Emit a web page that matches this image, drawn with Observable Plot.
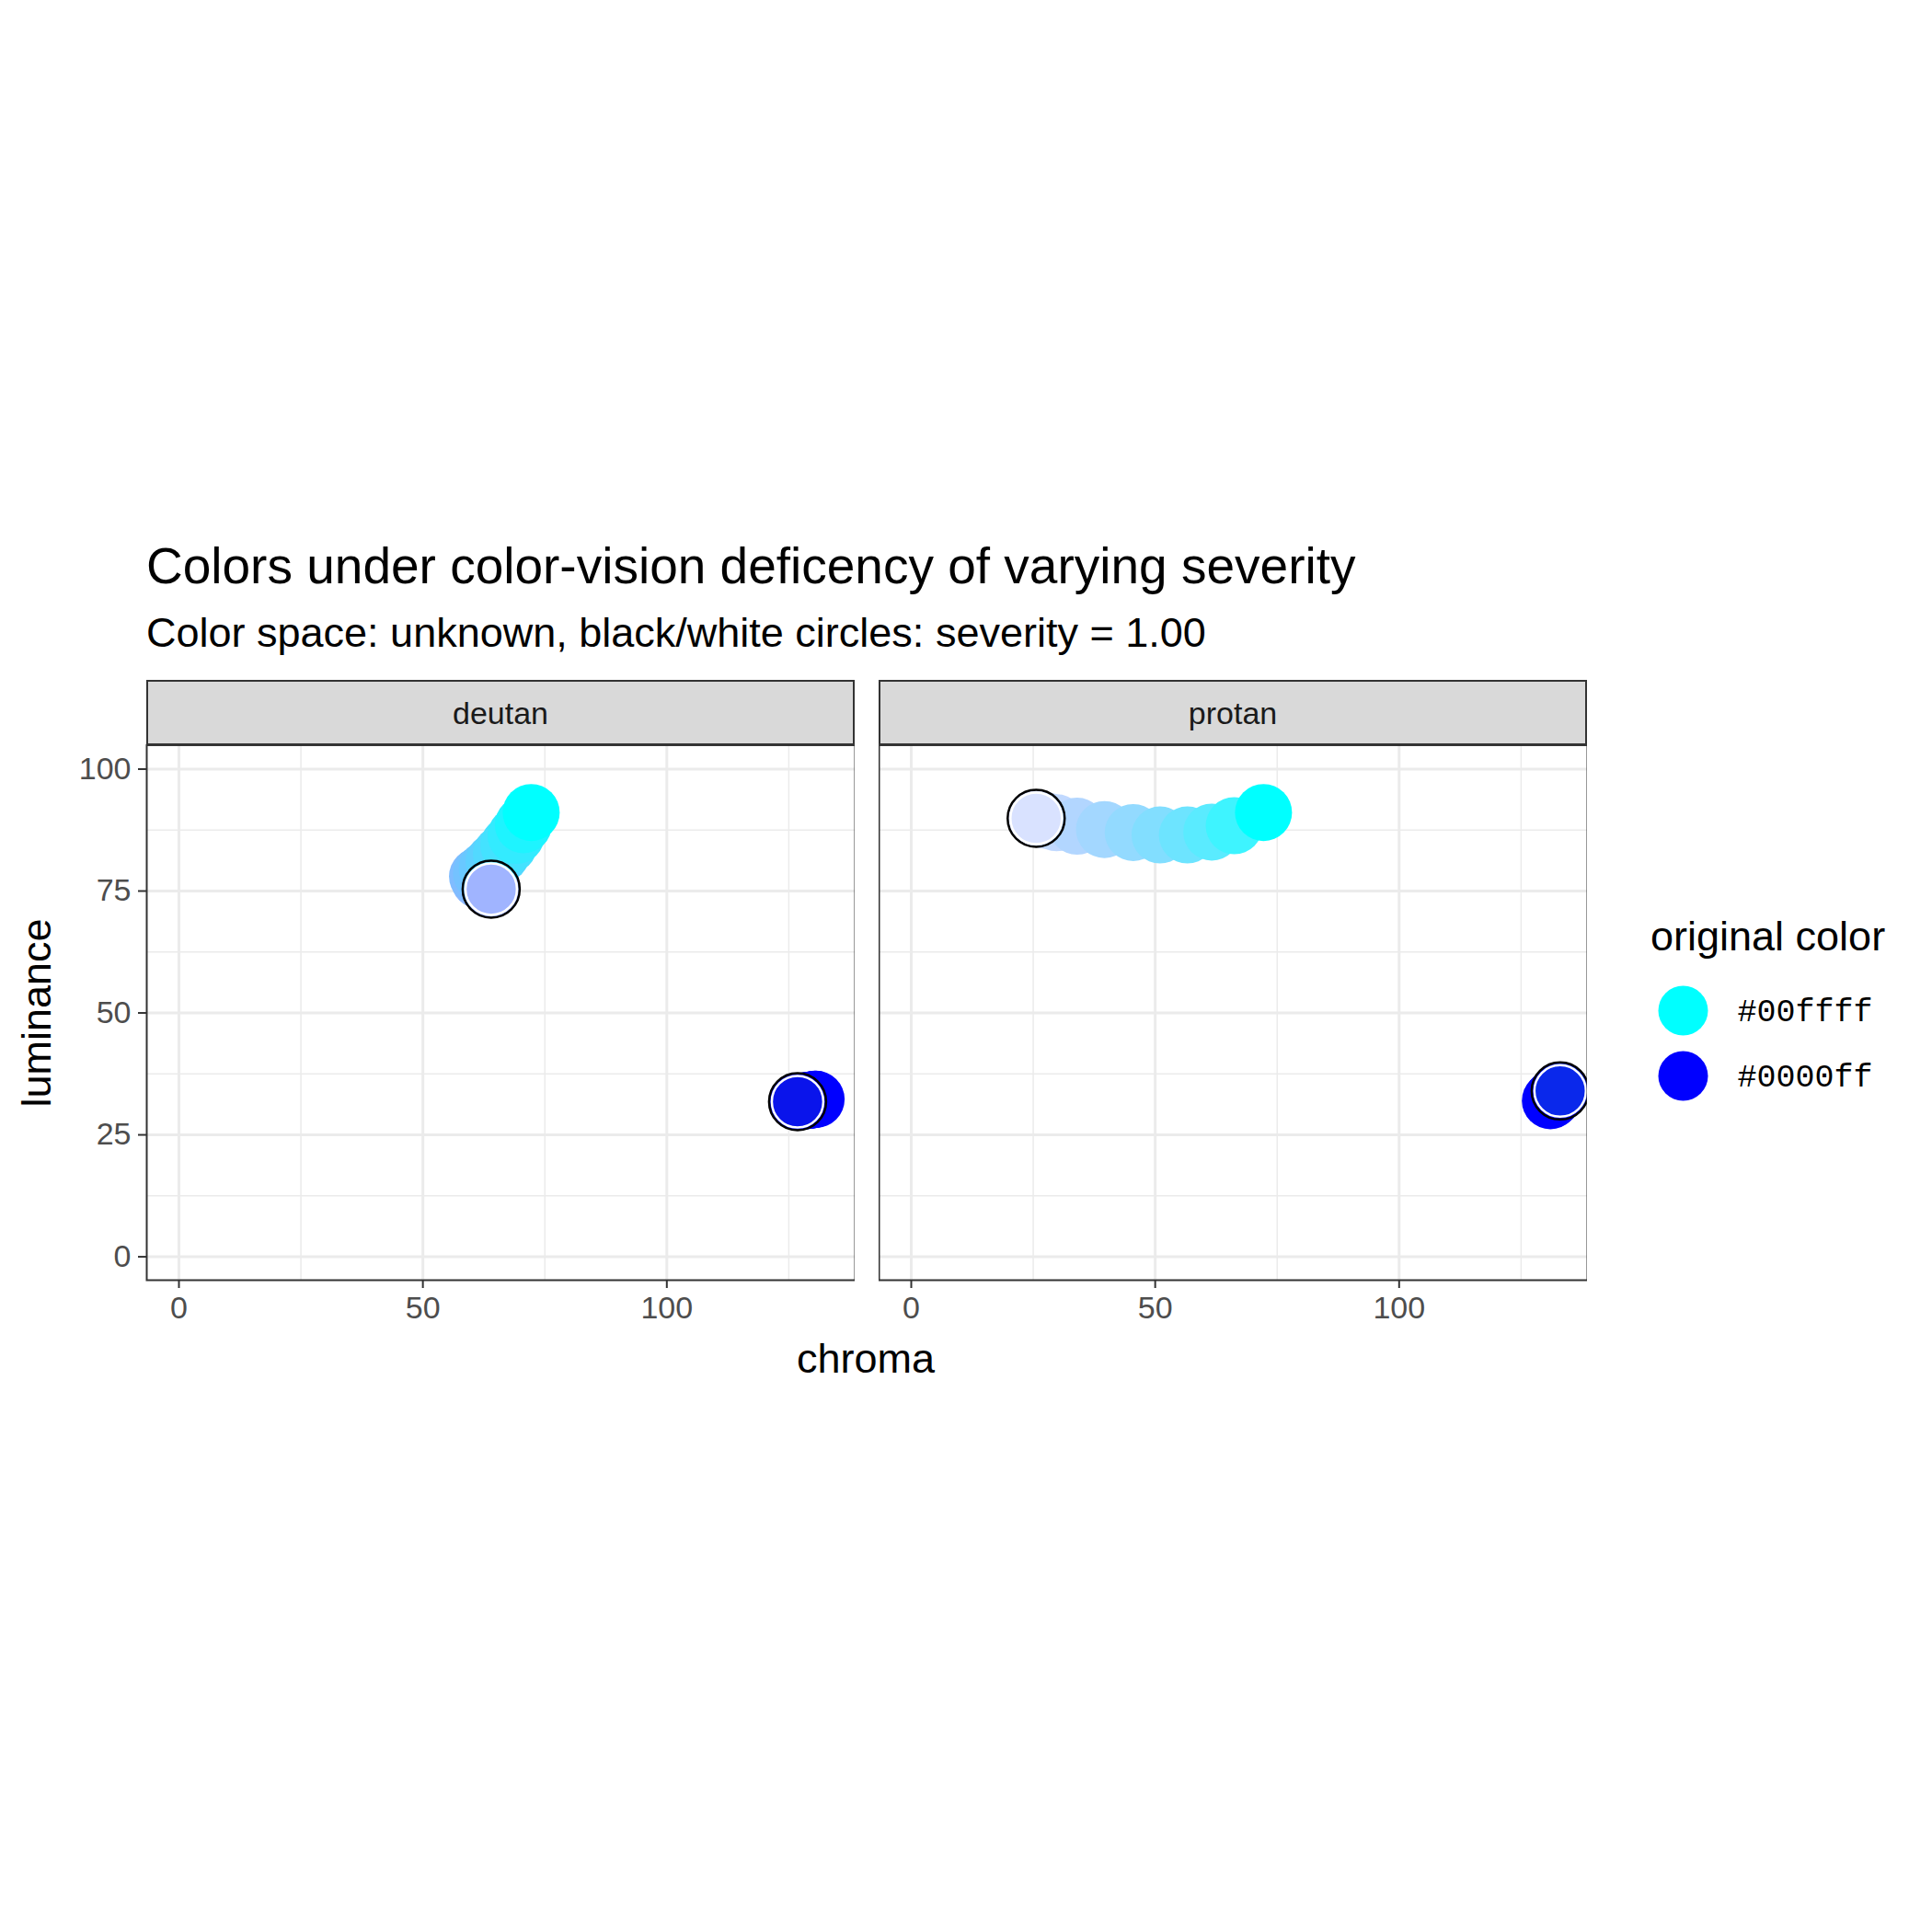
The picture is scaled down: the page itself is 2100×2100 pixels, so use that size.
<!DOCTYPE html>
<html><head><meta charset="utf-8">
<script src="https://cdn.jsdelivr.net/npm/d3@7"></script>
<script src="https://cdn.jsdelivr.net/npm/@observablehq/plot@0.6"></script>
<style>
body{margin:0;background:#fff;font-family:"Liberation Sans",Arial,sans-serif;}
#root{position:relative;width:2100px;height:2100px;}
.abs{position:absolute;}
.strip{background:#d9d9d9;border:2px solid #333;border-bottom:3px solid #333;box-sizing:border-box;text-align:center;font-size:34px;color:#1a1a1a;line-height:68px;}
</style></head><body>
<div id="root"></div>
<script>
const severity = [0,0.1,0.2,0.3,0.4,0.5,0.6,0.7,0.8,0.9,1.0];
// deutan, #00ffff
const deutanCyanChroma = [72.2,70.6,69.1,67.6,66.1,64.6,63.2,62.0,61.2,61.6,64.0];
const deutanCyanLum    = [91.1,88.6,86.4,84.4,82.6,81.0,79.6,78.6,78.0,77.2,75.4];
const deutanCyanCol = ["#00ffff","#1ef4ff","#33ebff","#44e2ff","#52d9ff","#5ed0ff","#69c8ff","#74c2ff","#80bcff","#8db8ff","#a0b4ff"];
// deutan, #0000ff
const deutanBlueChroma = [130.6,130.3,130.0,129.7,129.4,129.1,128.7,128.3,127.9,127.4,126.8];
const deutanBlueLum    = [32.3,32.3,32.2,32.2,32.1,32.1,32.0,32.0,31.9,31.9,31.8];
const deutanBlueCol = ["#0000ff","#0102fd","#0204fb","#0306f9","#0408f7","#050af5","#060cf3","#070ef1","#0810ef","#0912ed","#0a14eb"];
// protan, #00ffff
const protanCyanChroma = [72.2,66.2,61.6,56.6,51.0,45.5,39.6,34.0,29.8,27.4,25.6];
const protanCyanLum    = [91.1,88.4,87.1,86.5,86.5,87.0,87.6,88.3,89.0,89.5,89.9];
const protanCyanCol = ["#00ffff","#3ef4ff","#5aebff","#6de4ff","#82deff","#93daff","#a3d7ff","#b2d6ff","#c1d9ff","#ccddff","#d9e2ff"];
// protan, #0000ff
const protanBlueChroma = [131.0,131.2,131.4,131.6,131.8,132.0,132.2,132.4,132.6,132.8,133.0];
const protanBlueLum    = [32.0,32.2,32.4,32.6,32.8,33.0,33.2,33.4,33.6,33.8,34.0];
const protanBlueCol = ["#0000ff","#0104fd","#0208fb","#030cf9","#0410f7","#0514f5","#0618f3","#071cf1","#0820ef","#0924ed","#0a28eb"];

const xTicks=[0,50,100], xMinor=[25,75,125];
const yTicks=[0,25,50,75,100], yMinor=[12.5,37.5,62.5,87.5];
const legendLabels=["#00ffff","#0000ff"];

function rows(ch,lu,co,orig){return severity.map((s,i)=>({s,x:ch[i],y:lu[i],c:co[i],orig}));}
const panels={
  deutan:[...rows(deutanCyanChroma,deutanCyanLum,deutanCyanCol,"#00ffff"),...rows(deutanBlueChroma,deutanBlueLum,deutanBlueCol,"#0000ff")],
  protan:[...rows(protanCyanChroma,protanCyanLum,protanCyanCol,"#00ffff"),...rows(protanBlueChroma,protanBlueLum,protanBlueCol,"#0000ff")]
};

const root=document.getElementById("root");
function add(html,style){const d=document.createElement("div");d.className="abs";d.style.cssText=style;d.innerHTML=html;root.appendChild(d);return d;}

add("Colors under color-vision deficency of varying severity","left:159px;top:583px;font-size:55px;color:#000;white-space:nowrap;");
add("Color space: unknown, black/white circles: severity = 1.00","left:159px;top:662px;font-size:45px;color:#000;white-space:nowrap;");

const PW=770, PH=582, TOP=809;
function panel(name,left,showY){
  const data=panels[name].slice().sort((a,b)=>b.s-a.s);
  const sev1=data.filter(d=>d.s===1);
  const ml=showY?159:0;
  const p=Plot.plot({
    width:PW+ml, height:PH+90, marginLeft:ml, marginRight:0, marginTop:0, marginBottom:90,
    style:{fontFamily:"Liberation Sans, Arial, sans-serif",fontSize:"34px",background:"transparent"},
    x:{domain:[-6.6,138.6], label:null, axis:null},
    y:{domain:[-4.8,105], label:null, axis:null},
    marks:[
      Plot.ruleX(xMinor,{stroke:"#ebebeb",strokeWidth:1.5}),
      Plot.ruleY(yMinor,{stroke:"#ebebeb",strokeWidth:1.5}),
      Plot.ruleX(xTicks,{stroke:"#ebebeb",strokeWidth:3}),
      Plot.ruleY(yTicks,{stroke:"#ebebeb",strokeWidth:3}),
      Plot.dot(data,{x:"x",y:"y",fill:"c",r:31}),
      Plot.dot(sev1,{x:"x",y:"y",r:31,stroke:"black",strokeWidth:2.5,fill:"none"}),
      Plot.dot(sev1,{x:"x",y:"y",r:28,stroke:"white",strokeWidth:2.5,fill:"c"}),
      Plot.frame({stroke:"#333",strokeWidth:2}),
      Plot.axisX(xTicks,{tickSize:9,tickPadding:8,stroke:"#333",strokeWidth:2,color:"#4d4d4d",fontSize:34,label:null}),
      ...(showY?[Plot.axisY(yTicks,{tickSize:9,tickPadding:8,stroke:"#333",strokeWidth:2,color:"#4d4d4d",fontSize:34,label:null})]:[])
    ]
  });
  const d=add("",`left:${left-ml}px;top:${TOP}px;`);
  d.appendChild(p);
  add(name,`left:${left}px;top:739px;width:${PW}px;height:72px;`).className="abs strip";
}
panel("deutan",159,true);
panel("protan",955,false);

add("chroma","left:941px;top:1451px;transform:translateX(-50%);font-size:45px;color:#000;");
add("luminance","left:40px;top:1101px;transform:translate(-50%,-50%) rotate(-90deg);font-size:45px;color:#000;white-space:nowrap;");

// legend
add("original color","left:1794px;top:992px;font-size:45px;color:#000;white-space:nowrap;");
const leg=Plot.plot({
  width:280,height:160,marginLeft:0,marginRight:0,marginTop:0,marginBottom:0,
  x:{domain:[0,280],axis:null},y:{domain:[0,160],axis:null,reverse:true},
  style:{background:"transparent"},
  marks:[
    Plot.dot(legendLabels,{x:()=>35,y:(d,i)=>38+i*71,fill:d=>d,r:27}),
    Plot.text(legendLabels,{x:()=>94,y:(d,i)=>38+i*71,text:d=>d,textAnchor:"start",fontSize:35,fontFamily:"Liberation Mono, DejaVu Sans Mono, monospace",fill:"#000"})
  ]
});
const ld=add("","left:1794px;top:1060px;");ld.appendChild(leg);
</script></body></html>
